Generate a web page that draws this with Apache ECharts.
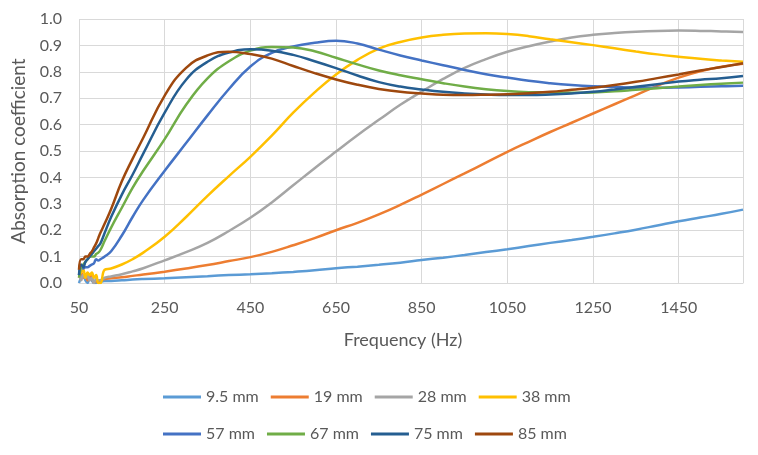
<!DOCTYPE html>
<html>
<head>
<meta charset="utf-8">
<script src="https://cdn.jsdelivr.net/npm/echarts@6/dist/echarts.min.js"></script>
<style>
  html, body { margin: 0; padding: 0; background: #ffffff; }
  #chart { width: 758px; height: 455px; }
</style>
</head>
<body>
<div id="chart"></div>
<script>
// Frequencies (Hz)
var freqs = [50,55,60,65,70,75,80,85,90,95,100,110,125,150,175,200,250,300,350,400,450,500,550,600,650,700,750,800,850,900,950,1000,1050,1100,1150,1200,1250,1300,1350,1400,1450,1500,1550,1600];

var seriesNames = ['9.5 mm','19 mm','28 mm','38 mm','57 mm','67 mm','75 mm','85 mm'];

var v9_5 = [0.00,0.02,0.03,0.01,0.00,0.02,0.01,0.00,0.00,0.005,0.005,0.008,0.008,0.010,0.013,0.015,0.018,0.022,0.026,0.030,0.033,0.037,0.042,0.048,0.056,0.062,0.069,0.077,0.087,0.096,0.106,0.117,0.128,0.140,0.152,0.163,0.175,0.188,0.202,0.218,0.234,0.248,0.262,0.278];
var v19 = [0.02,0.04,0.02,0.03,0.01,0.03,0.02,0.00,0.01,0.00,0.01,0.015,0.018,0.022,0.027,0.032,0.043,0.055,0.068,0.083,0.098,0.118,0.143,0.170,0.200,0.228,0.260,0.296,0.335,0.375,0.415,0.456,0.497,0.535,0.572,0.607,0.642,0.677,0.712,0.747,0.778,0.802,0.819,0.830];
var v28 = [0.04,0.01,0.03,0.02,0.03,0.01,0.02,0.00,0.015,0.01,0.01,0.02,0.025,0.033,0.044,0.056,0.086,0.117,0.152,0.197,0.247,0.305,0.370,0.435,0.498,0.560,0.618,0.675,0.725,0.773,0.815,0.848,0.876,0.897,0.915,0.930,0.940,0.947,0.952,0.955,0.956,0.955,0.953,0.951];
var v38 = [0.03,0.04,0.05,0.02,0.04,0.03,0.04,0.02,0.03,0.00,0.00,0.05,0.055,0.070,0.090,0.115,0.175,0.250,0.330,0.405,0.478,0.558,0.645,0.722,0.790,0.845,0.888,0.913,0.930,0.940,0.945,0.946,0.943,0.935,0.923,0.912,0.901,0.889,0.877,0.866,0.857,0.849,0.843,0.838];
var v57 = [0.03,0.06,0.055,0.06,0.06,0.065,0.07,0.075,0.09,0.085,0.09,0.10,0.12,0.18,0.25,0.315,0.425,0.530,0.635,0.735,0.820,0.872,0.896,0.910,0.918,0.907,0.884,0.862,0.843,0.825,0.807,0.791,0.778,0.766,0.757,0.750,0.745,0.742,0.740,0.740,0.741,0.743,0.745,0.747];
var v67 = [0.02,0.06,0.07,0.08,0.09,0.10,0.10,0.10,0.11,0.115,0.125,0.16,0.21,0.285,0.36,0.425,0.545,0.675,0.775,0.840,0.880,0.894,0.892,0.878,0.853,0.828,0.805,0.787,0.772,0.757,0.744,0.734,0.727,0.723,0.722,0.721,0.722,0.726,0.732,0.738,0.744,0.750,0.755,0.759];
var v75 = [0.03,0.07,0.06,0.08,0.09,0.10,0.11,0.12,0.13,0.14,0.15,0.19,0.25,0.335,0.41,0.49,0.645,0.770,0.838,0.873,0.885,0.880,0.864,0.840,0.814,0.786,0.761,0.744,0.733,0.724,0.718,0.714,0.712,0.712,0.714,0.718,0.724,0.733,0.743,0.753,0.763,0.770,0.776,0.784];
var v85 = [0.05,0.09,0.09,0.10,0.10,0.11,0.12,0.135,0.15,0.17,0.19,0.225,0.28,0.385,0.47,0.55,0.710,0.815,0.862,0.876,0.867,0.850,0.822,0.795,0.771,0.751,0.735,0.724,0.718,0.713,0.712,0.713,0.715,0.719,0.724,0.732,0.740,0.750,0.762,0.776,0.790,0.805,0.818,0.832];

var seriesValues = [v9_5, v19, v28, v38, v57, v67, v75, v85];
var colors = ['#5B9BD5','#ED7D31','#A5A5A5','#FFC000','#4472C4','#70AD47','#255E91','#9E480E'];

var xMin = 50, xMax = 1600, xStep = 200;
var yMin = 0, yMax = 1, yStep = 0.1;

var FONT = 'Lato, "Open Sans", sans-serif';
var TXT = '#595959';

var series = seriesNames.map(function (name, i) {
  return {
    name: name,
    type: 'line',
    symbol: 'none',
    smooth: 0.45,
    data: freqs.map(function (f, k) { return [f, seriesValues[i][k]]; }),
    lineStyle: { width: 2.5, color: colors[i] },
    itemStyle: { color: colors[i] },
    z: 2 + i
  };
});

function legendFor(names, top) {
  return {
    data: names,
    left: 163,
    top: top,
    padding: 0,
    orient: 'horizontal',
    icon: 'rect',
    itemWidth: 38,
    itemHeight: 3,
    itemGap: 12,
    textStyle: { color: TXT, fontSize: 16, fontFamily: FONT, width: 58, overflow: 'none' }
  };
}

var chart = echarts.init(document.getElementById('chart'), null, { renderer: 'canvas' });
chart.setOption({
  animation: false,
  backgroundColor: '#ffffff',
  color: colors,
  grid: { left: 79, right: 15, top: 19, bottom: 172, containLabel: false },
  legend: [
    legendFor(seriesNames.slice(0, 4), 389),
    legendFor(seriesNames.slice(4, 8), 426)
  ],
  xAxis: {
    type: 'value',
    min: xMin, max: xMax, interval: xStep,
    name: 'Frequency (Hz)',
    nameLocation: 'middle',
    nameGap: 48,
    nameTextStyle: { color: TXT, fontSize: 18, fontFamily: FONT, padding: [0, 16, 0, 0] },
    axisLine: { show: true, lineStyle: { color: '#d9d9d9', width: 1 } },
    axisTick: { show: false },
    axisLabel: { color: TXT, fontSize: 16, fontFamily: FONT, margin: 17, showMaxLabel: false,
      formatter: function (v) { return String(v); } },
    splitLine: { show: true, lineStyle: { color: '#d9d9d9', width: 1 } }
  },
  yAxis: {
    type: 'value',
    min: yMin, max: yMax, interval: yStep,
    name: 'Absorption coefficient',
    nameLocation: 'middle',
    nameGap: 50,
    nameTextStyle: { color: TXT, fontSize: 19, fontFamily: FONT },
    axisLine: { show: false },
    axisTick: { show: false },
    axisLabel: { color: TXT, fontSize: 16, fontFamily: FONT, margin: 17, formatter: function (v) { return v.toFixed(1); } },
    splitLine: { show: true, lineStyle: { color: '#d9d9d9', width: 1 } }
  },
  series: series
});
</script>
</body>
</html>
